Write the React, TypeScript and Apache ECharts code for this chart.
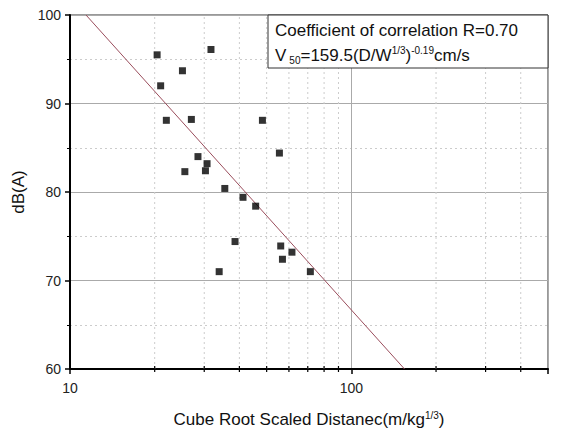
import React, { useEffect, useRef } from "react";
import * as echarts from "echarts";

const distance = [20.4, 31.7, 25.1, 21.0, 22.0, 27.0, 48.3, 55.5, 28.5, 30.7, 25.6, 30.3, 35.5, 41.2, 45.7, 38.6, 33.9, 56.1, 56.9, 61.5, 71.5];
const dBA = [95.5, 96.1, 93.7, 92.0, 88.1, 88.2, 88.1, 84.4, 84.0, 83.2, 82.3, 82.4, 80.4, 79.4, 78.4, 74.4, 71.0, 73.9, 72.4, 73.2, 71.0];
const fitX = [11.4, 154.5];
const fitY = [100, 60];
const minorX = [20, 30, 40, 50, 60, 70, 80, 90, 200, 300, 400];
const xLabels = [10, 100];
const legendLine1 = "Coefficient of correlation R=0.70";

const FONT = "'Liberation Sans', Arial, sans-serif";

export default function App() {
  const ref = useRef<HTMLDivElement>(null);
  useEffect(() => {
    document.body.style.margin = "0";
    const chart = echarts.init(ref.current!, null, { renderer: "svg" });
    const yMin = 60, yMax = 100;
    chart.setOption({
      animation: false,
      backgroundColor: "#fff",
      grid: {
        left: 70, top: 15, right: 20, bottom: 63,
        show: true, borderColor: "#333", borderWidth: 1, backgroundColor: "transparent",
      },
      xAxis: {
        type: "log", logBase: 10, min: 10, max: 500,
        name: "Cube Root Scaled Distanec(m/kg{sup|1/3})",
        nameLocation: "middle", nameGap: 41,
        nameTextStyle: {
          fontFamily: FONT, fontSize: 17, color: "#111",
          rich: { sup: { fontFamily: FONT, fontSize: 10, color: "#111", verticalAlign: "top", padding: [0, 0, 9, 0] } },
        },
        axisLine: { show: true, lineStyle: { color: "#000", width: 2 } },
        axisTick: { show: true, length: 5, lineStyle: { color: "#000", width: 1.5 } },
        axisLabel: {
          margin: 12, fontFamily: FONT, fontSize: 14, color: "#222",
          formatter: (v: number) => (xLabels.some((l) => Math.abs(l - v) < 1e-6) ? String(v) : ""),
        },
        splitLine: { show: true, lineStyle: { color: "#aaa", width: 1 } },
      },
      yAxis: {
        type: "value", min: yMin, max: yMax, interval: 10,
        name: "dB(A)", nameLocation: "middle", nameGap: 42,
        nameTextStyle: { fontFamily: FONT, fontSize: 17, color: "#111" },
        axisLine: { show: true, lineStyle: { color: "#000", width: 2 } },
        axisTick: { show: true, length: 5, lineStyle: { color: "#000", width: 1.5 } },
        minorTick: { show: true, splitNumber: 2, length: 3, lineStyle: { color: "#000", width: 1 } },
        axisLabel: { margin: 9, fontFamily: FONT, fontSize: 14, color: "#222" },
        splitLine: { show: true, lineStyle: { color: "#aaa", width: 1 } },
        minorSplitLine: { show: true, lineStyle: { color: "#ccc", width: 1, type: [2, 3] } },
      },
      series: [
        {
          type: "custom",
          z: 1,
          silent: true,
          data: minorX.map((v) => [v, yMin]),
          renderItem: (params: any, api: any) => {
            const v = api.value(0);
            const bottom = api.coord([v, yMin]);
            const top = api.coord([v, yMax]);
            return {
              type: "group",
              children: [
                { type: "line", shape: { x1: bottom[0], y1: bottom[1], x2: top[0], y2: top[1] }, style: { stroke: "#ccc", lineWidth: 1, lineDash: [2, 3] } },
                { type: "line", shape: { x1: bottom[0], y1: bottom[1] - 3, x2: bottom[0], y2: bottom[1] + 3 }, style: { stroke: "#000", lineWidth: 1.2 } },
              ],
            };
          },
        },
        {
          type: "line",
          z: 3,
          data: fitX.map((x, i) => [x, fitY[i]]),
          symbol: "none",
          lineStyle: { color: "#9a4d5c", width: 1 },
        },
        {
          type: "scatter",
          z: 4,
          data: distance.map((x, i) => [x, dBA[i]]),
          symbol: "rect",
          symbolSize: 7,
          itemStyle: { color: "#000" },
        },
      ],
      graphic: [
        {
          type: "rect", z: 100,
          shape: { x: 268, y: 15, width: 280, height: 53 },
          style: { fill: "#fff", stroke: "#333", lineWidth: 1 },
        },
        {
          type: "text", z: 101, x: 275, y: 30,
          style: { text: legendLine1, fontFamily: FONT, fontSize: 17, fill: "#111", verticalAlign: "middle" },
        },
        {
          type: "text", z: 101, x: 275, y: 55,
          style: {
            text: "V{sub|50}=159.5(D/W{sup|1/3}){sup|-0.19}cm/s",
            fontFamily: FONT, fontSize: 17, fill: "#111", verticalAlign: "middle",
            rich: {
              sub: { fontFamily: FONT, fontSize: 10, fill: "#111", padding: [11, 0, 0, 3] },
              sup: { fontFamily: FONT, fontSize: 10, fill: "#111", padding: [0, 0, 10, 0] },
            },
          },
        },
      ],
    });
    return () => chart.dispose();
  }, []);
  return <div ref={ref} style={{ width: 568, height: 433 }} />;
}
